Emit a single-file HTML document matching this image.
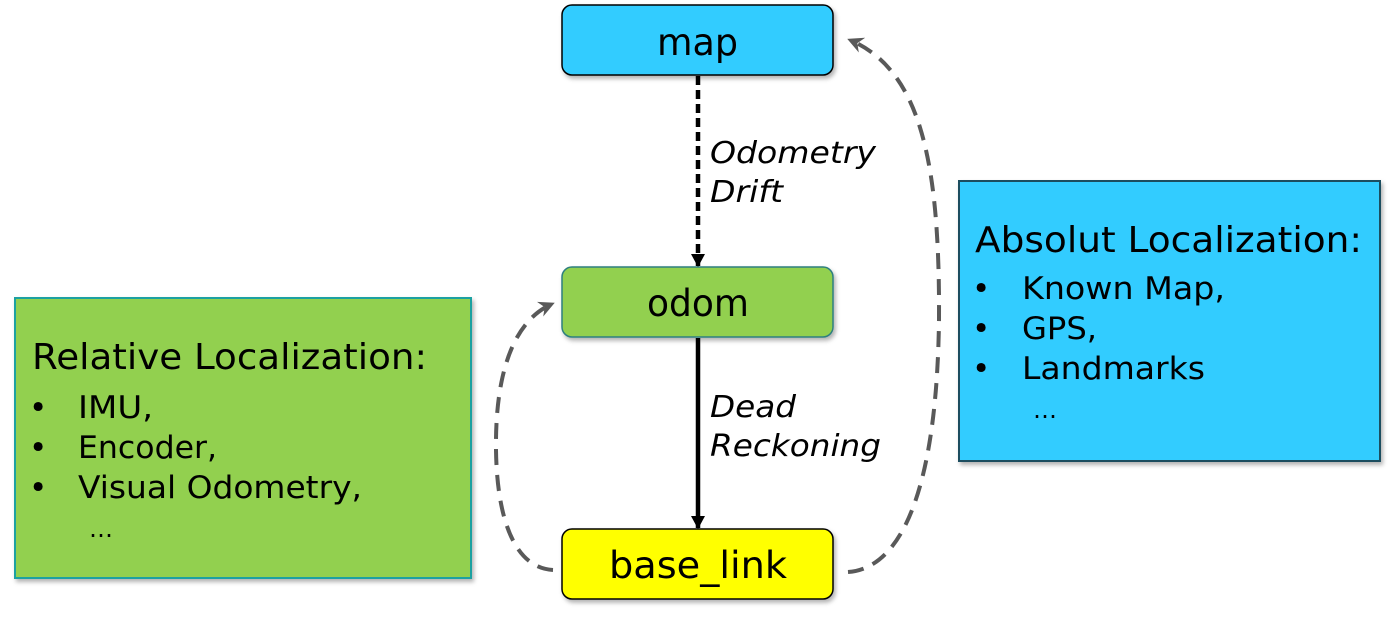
<!DOCTYPE html>
<html><head><meta charset="utf-8"><style>
html,body{margin:0;padding:0;background:#fff;width:1394px;height:620px;overflow:hidden}
text{font-family:"DejaVu Sans","Liberation Sans",sans-serif;fill:#000}
</style></head><body>
<svg width="1394" height="620" viewBox="0 0 1394 620" xmlns="http://www.w3.org/2000/svg">
<defs>
<marker id="ab" markerWidth="16" markerHeight="16" refX="12" refY="7" orient="auto" markerUnits="userSpaceOnUse"><path d="M0,0 L13,7 L0,14 z" fill="#000"/></marker>
<marker id="ag" markerWidth="18" markerHeight="16" refX="13" refY="8" orient="auto" markerUnits="userSpaceOnUse"><path d="M0,0 L16,8 L0,16 L5,8 z" fill="#595959"/></marker>
<filter id="sh" x="-5%" y="-5%" width="110%" height="120%"><feDropShadow dx="2" dy="3" stdDeviation="2" flood-color="#000" flood-opacity="0.3"/></filter>
</defs>
<rect x="15" y="298" width="456" height="280" fill="#92D050" stroke="#1BA1A1" stroke-width="2" filter="url(#sh)"/>
<rect x="959" y="181" width="421" height="280" fill="#33CCFF" stroke="#1F4E5F" stroke-width="2" filter="url(#sh)"/>
<rect x="562" y="5" width="271" height="70" rx="10" fill="#33CCFF" stroke="#000" stroke-width="1.5" filter="url(#sh)"/>
<rect x="562" y="267" width="271" height="70" rx="10" fill="#92D050" stroke="#2E7F7F" stroke-width="1.5" filter="url(#sh)"/>
<rect x="562" y="529" width="271" height="70" rx="10" fill="#FFFF00" stroke="#000" stroke-width="1.5" filter="url(#sh)"/>
<line x1="698" y1="76" x2="698" y2="266" stroke="#000" stroke-width="4.5" stroke-dasharray="9,5" marker-end="url(#ab)"/>
<line x1="698" y1="338" x2="698" y2="528" stroke="#000" stroke-width="4.5" marker-end="url(#ab)"/>
<path d="M553,570 C515,568 497,520 496,450 C495,370 515,320 552,304" fill="none" stroke="#595959" stroke-width="4" stroke-dasharray="16,10" marker-end="url(#ag)"/>
<path d="M848,572 C905,568 937,480 939,320 C940,160 920,70 850,40" fill="none" stroke="#595959" stroke-width="4" stroke-dasharray="16,10" marker-end="url(#ag)"/>
<g font-size="37" lengthAdjust="spacingAndGlyphs">
<text x="657" y="55" textLength="81" lengthAdjust="spacingAndGlyphs">map</text>
<text x="647" y="316" textLength="102" lengthAdjust="spacingAndGlyphs">odom</text>
<text x="609" y="578" textLength="178" lengthAdjust="spacingAndGlyphs">base_link</text>
</g>
<g font-style="italic" font-size="30">
<text x="710" y="163" textLength="166" lengthAdjust="spacingAndGlyphs">Odometry</text>
<text x="710" y="202" textLength="73" lengthAdjust="spacingAndGlyphs">Drift</text>
<text x="710" y="417" textLength="86" lengthAdjust="spacingAndGlyphs">Dead</text>
<text x="710" y="456" textLength="171" lengthAdjust="spacingAndGlyphs">Reckoning</text>
</g>
<text x="32" y="369" font-size="36" textLength="395" lengthAdjust="spacingAndGlyphs">Relative Localization:</text>
<g font-size="31">
<text x="29" y="418">•</text><text x="78" y="418" textLength="75" lengthAdjust="spacingAndGlyphs">IMU,</text>
<text x="29" y="458">•</text><text x="78" y="458" textLength="139" lengthAdjust="spacingAndGlyphs">Encoder,</text>
<text x="29" y="498">•</text><text x="78" y="498" textLength="284" lengthAdjust="spacingAndGlyphs">Visual Odometry,</text>
<text x="89" y="537" font-size="24">…</text>
</g>
<text x="975" y="252" font-size="36" textLength="387" lengthAdjust="spacingAndGlyphs">Absolut Localization:</text>
<g font-size="31">
<text x="972" y="299">•</text><text x="1022" y="299" textLength="203" lengthAdjust="spacingAndGlyphs">Known Map,</text>
<text x="972" y="339">•</text><text x="1022" y="339" textLength="75" lengthAdjust="spacingAndGlyphs">GPS,</text>
<text x="972" y="379">•</text><text x="1022" y="379" textLength="183" lengthAdjust="spacingAndGlyphs">Landmarks</text>
<text x="1033" y="418" font-size="24">…</text>
</g>
</svg>
</body></html>
